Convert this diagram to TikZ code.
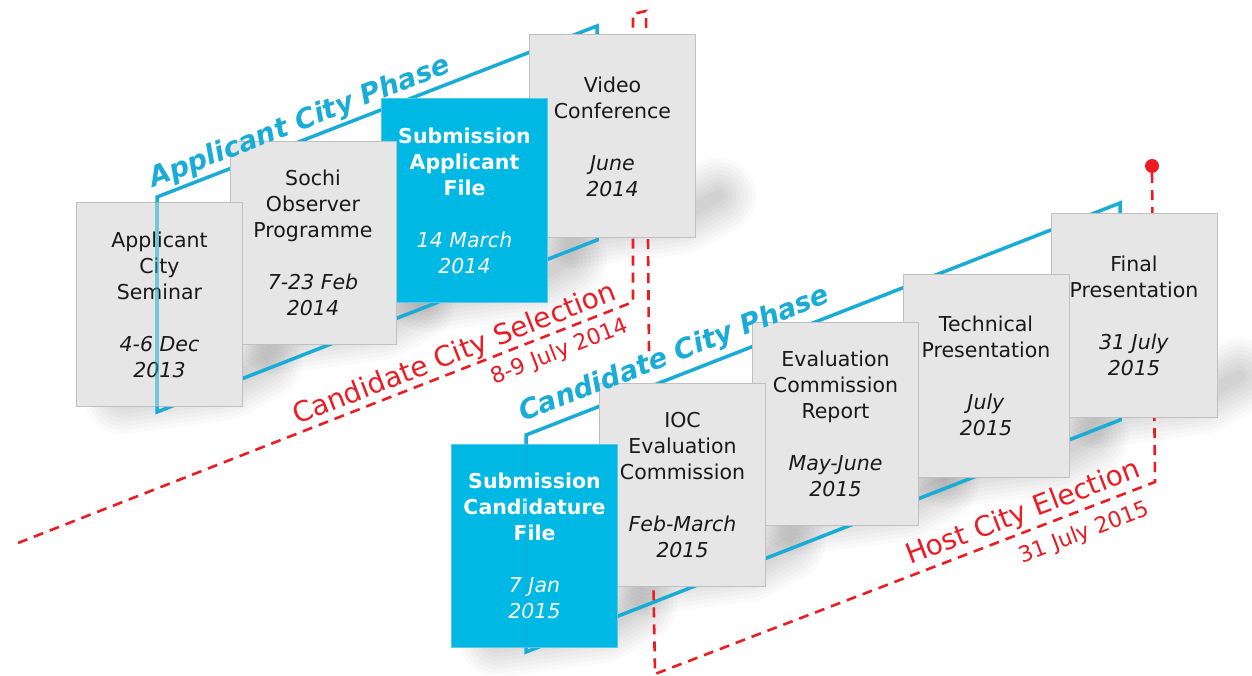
\documentclass[tikz,border=0pt]{standalone}
\usepackage{fontspec}
\setmainfont{DejaVu Sans}[ItalicFont={DejaVu Sans Oblique},BoldFont={DejaVu Sans Bold},BoldItalicFont={DejaVu Sans Bold Oblique}]

\definecolor{boxgray}{RGB}{230,230,230}
\definecolor{boxedge}{RGB}{192,192,192}
\definecolor{cyanfill}{RGB}{0,184,228}
\definecolor{cyanedge}{RGB}{90,200,235}
\definecolor{phaseblue}{RGB}{24,172,214}
\definecolor{selred}{RGB}{236,28,36}
\definecolor{inktext}{RGB}{25,25,25}

\tikzset{
  card/.style={draw=boxedge, line width=1pt, fill=boxgray, minimum width=166pt,
    minimum height=203pt, inner sep=0pt, align=center,
    font=\fontsize{20.5}{26}\selectfont, text=inktext},
  keycard/.style={card, fill=cyanfill, draw=cyanedge, text=white},
  phaseline/.style={draw=phaseblue, line width=3.5pt, line join=miter},
  phaseghost/.style={draw=phaseblue, line width=3.5pt},
  redpath/.style={draw=selred, line width=2.6pt, dash pattern=on 10pt off 7pt},
  phasetext/.style={text=phaseblue, font=\fontsize{27.5}{30}\selectfont\bfseries\itshape, inner sep=0pt},
  eventtext/.style={text=selred, font=\fontsize{28}{30}\selectfont, inner sep=0pt},
  datetext/.style={text=selred, font=\fontsize{22}{24}\selectfont, inner sep=0pt},
  shadowstroke/.style={draw=black, line join=round, line cap=round, draw opacity=0.021},
}

% soft floor shadow of a card: left edge, right edge, bottom edge
\newcommand\cardshadow[3]{%
  \foreach \w in {76,68,60,52,44,36,28,20,12}{%
    \path[shadowstroke, line width=\w pt]
      (#1+45,#3-8) -- (#2-15,#3-22) -- (#2+22,#3-42);
  }%
}

\begin{document}
\begin{tikzpicture}[x=1pt, y=-1pt]
  \fill[white] (0,0) rectangle (1252,676);
  \useasboundingbox (0,0) rectangle (1252,676);

  % shadows under the cards
  \cardshadow{77}{242}{404}
  \cardshadow{230}{396}{344}
  \cardshadow{382}{547}{302}
  \cardshadow{529}{696}{238}
  \cardshadow{452}{617}{647}
  \cardshadow{600}{765}{585}
  \cardshadow{752}{919}{525}
  \cardshadow{903}{1069}{478}
  \cardshadow{1051}{1217}{418}

  % phase planes
  \coordinate (ap1) at (157,197);
  \coordinate (ap2) at (597,26);
  \coordinate (ap3) at (597,240);
  \coordinate (ap4) at (157,412);
  \draw[phaseline] (ap1) -- (ap2) -- (ap3) -- (ap4) -- cycle;

  \coordinate (cp1) at (526,435);
  \coordinate (cp2) at (1120,203);
  \coordinate (cp3) at (1120,420);
  \coordinate (cp4) at (526,652);
  \draw[phaseline] (cp1) -- (cp2) -- (cp3) -- (cp4) -- cycle;

  % decision markers
  \coordinate (sel0) at (18,543);
  \coordinate (sel1) at (633,302);
  \coordinate (sel2) at (633,14);
  \coordinate (sel3) at (646,11);
  \coordinate (sel4) at (649,353);
  \draw[redpath] (sel0) -- (sel1) -- (sel2) -- (sel3) -- (sel4);

  \node[circle, fill=selred, minimum size=14pt, inner sep=0pt] (hostdot) at (1152,166) {};
  \coordinate (host1) at (1155,482);
  \coordinate (host2) at (655,674);
  \coordinate (host3) at (653,560);
  \draw[redpath] (hostdot.south) -- (host1) -- (host2) -- (host3);

  % applicant phase cards, back to front
  \node[card] (video) at (612.5,136.5) {Video\\Conference\\[26pt]\textit{June}\\\textit{2014}};
  \node[keycard] (appfile) at (464.5,200.5) {\textbf{Submission}\\\textbf{Applicant}\\\textbf{File}\\[26pt]\textit{14 March}\\\textit{2014}};
  \node[card] (sochi) at (313,243) {Sochi\\Observer\\Programme\\[26pt]\textit{7-23 Feb}\\\textit{2014}};
  \node[card] (seminar) at (159.5,304.5) {Applicant\\City\\Seminar\\[26pt]\textit{4-6 Dec}\\\textit{2013}};

  % candidate phase cards, back to front
  \node[card] (final) at (1134,315.5) {Final\\Presentation\\[26pt]\textit{31 July}\\\textit{2015}};
  \node[card] (technical) at (986,376) {Technical\\Presentation\\[26pt]\textit{July}\\\textit{2015}};
  \node[card] (report) at (835.5,423.5) {Evaluation\\Commission\\Report\\[26pt]\textit{May-June}\\\textit{2015}};
  \node[card] (ioc) at (682.5,485) {IOC\\Evaluation\\Commission\\[26pt]\textit{Feb-March}\\\textit{2015}};
  \node[keycard] (candfile) at (534.5,545.5) {\textbf{Submission}\\\textbf{Candidature}\\\textbf{File}\\[26pt]\textit{7 Jan}\\\textit{2015}};

  % front edges of the phase planes seen through the first cards
  \draw[phaseghost, opacity=0.55] (seminar.north -| ap1) -- (seminar.south -| ap1);
  \draw[phaseghost, opacity=0.3] (candfile.north -| cp1) -- (candfile.south -| cp1);

  % labels
  \node[phasetext, rotate=21.24, anchor=base west] (apphase) at (153,188) {Applicant City Phase};
  \node[phasetext, rotate=21.3, anchor=base west] (cdphase) at (523,422) {Candidate City Phase};
  \node[eventtext, rotate=21.38, anchor=base west] (seltext) at (297,425) {Candidate City Selection};
  \node[datetext, rotate=21.38, anchor=base east] (seldate) at (630,331) {8-9 July 2014};
  \node[eventtext, rotate=20.9, anchor=base west] (hosttext) at (910,565) {Host City Election};
  \node[datetext, rotate=20.9, anchor=base east] (hostdate) at (1151,514) {31 July 2015};
\end{tikzpicture}
\end{document}
